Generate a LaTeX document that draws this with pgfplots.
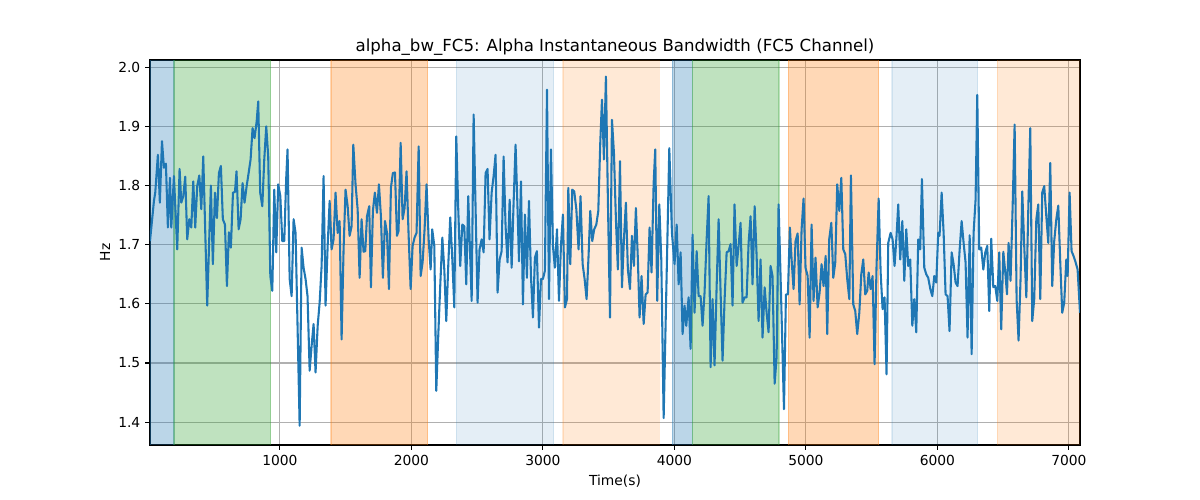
\documentclass[border=0pt]{standalone}
\usepackage{fontspec}
\setmainfont{DejaVu Sans}
\usepackage{pgfplots}
\usepackage{pgfplotstable}
\pgfplotsset{compat=1.18}
\definecolor{tabblue}{HTML}{1F77B4}
\definecolor{tabgreen}{HTML}{2CA02C}
\definecolor{taborange}{HTML}{FF7F0E}
\definecolor{gridgray}{HTML}{B0B0B0}
\pgfplotstableread{
x y
12 1.706
42 1.774
52 1.788
72 1.852
87 1.771
103 1.875
118 1.830
133 1.837
148 1.729
164 1.813
174 1.729
194 1.816
219 1.692
237 1.828
250 1.771
265 1.782
280 1.815
295 1.709
311 1.743
326 1.729
341 1.807
356 1.729
371 1.799
387 1.817
402 1.760
417 1.849
447 1.597
475 1.800
490 1.667
506 1.788
521 1.745
536 1.821
551 1.833
566 1.743
582 1.734
597 1.630
612 1.721
627 1.695
643 1.788
658 1.789
670 1.824
686 1.726
701 1.743
716 1.804
731 1.771
747 1.799
762 1.821
777 1.844
792 1.897
807 1.880
823 1.908
835 1.942
850 1.788
866 1.765
881 1.844
896 1.900
911 1.849
927 1.647
942 1.622
957 1.793
972 1.687
987 1.802
1003 1.782
1018 1.706
1033 1.706
1048 1.813
1058 1.861
1074 1.642
1089 1.613
1104 1.743
1119 1.720
1134 1.563
1150 1.394
1165 1.695
1180 1.661
1195 1.642
1210 1.613
1226 1.487
1241 1.529
1256 1.566
1271 1.484
1287 1.563
1302 1.602
1317 1.664
1332 1.816
1347 1.597
1363 1.698
1378 1.774
1393 1.692
1408 1.709
1423 1.788
1439 1.720
1454 1.740
1469 1.540
1484 1.692
1499 1.793
1515 1.765
1530 1.715
1545 1.731
1558 1.869
1575 1.802
1591 1.760
1606 1.644
1621 1.743
1636 1.688
1649 1.689
1662 1.748
1679 1.765
1692 1.628
1707 1.757
1722 1.788
1738 1.754
1753 1.802
1768 1.748
1783 1.644
1799 1.740
1814 1.720
1829 1.625
1844 1.796
1859 1.821
1875 1.822
1890 1.715
1902 1.723
1918 1.872
1933 1.743
1948 1.762
1963 1.824
1978 1.720
1994 1.625
2009 1.698
2024 1.712
2039 1.720
2055 1.866
2070 1.647
2085 1.670
2100 1.726
2115 1.802
2131 1.709
2146 1.658
2158 1.726
2174 1.698
2189 1.453
2204 1.546
2219 1.630
2235 1.712
2250 1.658
2265 1.571
2280 1.664
2295 1.746
2311 1.675
2326 1.594
2341 1.883
2356 1.760
2371 1.664
2387 1.734
2402 1.731
2417 1.633
2432 1.782
2458 1.605
2473 1.920
2488 1.760
2503 1.602
2518 1.692
2534 1.709
2549 1.687
2564 1.821
2579 1.828
2594 1.709
2610 1.788
2625 1.816
2640 1.852
2655 1.619
2671 1.675
2686 1.689
2701 1.849
2716 1.731
2731 1.670
2747 1.776
2762 1.661
2777 1.771
2792 1.869
2807 1.760
2818 1.672
2833 1.807
2848 1.599
2863 1.751
2878 1.644
2894 1.774
2909 1.647
2924 1.577
2939 1.678
2954 1.689
2970 1.560
2985 1.642
3000 1.642
3015 1.656
3031 1.962
3046 1.608
3061 1.861
3076 1.698
3091 1.661
3107 1.726
3122 1.605
3137 1.698
3152 1.751
3167 1.594
3183 1.608
3193 1.796
3208 1.667
3223 1.793
3238 1.790
3254 1.760
3271 1.692
3286 1.782
3302 1.667
3317 1.642
3332 1.608
3347 1.681
3360 1.757
3375 1.706
3390 1.726
3406 1.734
3421 1.757
3436 1.872
3449 1.945
3464 1.844
3479 1.984
3494 1.776
3510 1.577
3525 1.911
3540 1.855
3555 1.743
3570 1.658
3586 1.841
3601 1.628
3616 1.709
3631 1.771
3646 1.658
3662 1.625
3677 1.715
3692 1.664
3707 1.762
3722 1.675
3735 1.577
3750 1.647
3766 1.566
3781 1.616
3796 1.619
3811 1.729
3826 1.653
3842 1.804
3854 1.861
3869 1.605
3885 1.768
3900 1.675
3918 1.407
3961 1.863
3981 1.720
4001 1.667
4017 1.734
4032 1.633
4047 1.687
4062 1.549
4077 1.597
4090 1.563
4108 1.611
4123 1.524
4138 1.717
4153 1.585
4169 1.689
4184 1.613
4199 1.613
4214 1.563
4229 1.619
4245 1.709
4260 1.782
4275 1.493
4290 1.608
4305 1.496
4321 1.630
4336 1.743
4351 1.619
4366 1.504
4381 1.605
4397 1.687
4412 1.689
4427 1.701
4442 1.597
4457 1.768
4473 1.664
4488 1.698
4503 1.737
4518 1.602
4534 1.611
4549 1.611
4564 1.703
4579 1.748
4594 1.633
4610 1.765
4625 1.681
4640 1.571
4655 1.675
4670 1.543
4686 1.628
4701 1.585
4716 1.552
4731 1.664
4746 1.647
4762 1.465
4777 1.510
4792 1.768
4807 1.647
4833 1.422
4848 1.616
4863 1.616
4878 1.729
4891 1.675
4906 1.625
4921 1.706
4937 1.719
4952 1.599
4967 1.726
4982 1.778
4997 1.661
5013 1.647
5028 1.543
5043 1.734
5058 1.605
5073 1.678
5089 1.594
5104 1.619
5119 1.667
5134 1.630
5150 1.681
5162 1.549
5177 1.709
5193 1.737
5208 1.644
5223 1.670
5238 1.802
5254 1.757
5269 1.813
5284 1.692
5299 1.684
5314 1.642
5330 1.608
5342 1.817
5360 1.599
5375 1.588
5390 1.549
5406 1.585
5421 1.650
5436 1.675
5451 1.616
5466 1.622
5477 1.653
5492 1.625
5507 1.647
5522 1.498
5537 1.664
5553 1.778
5568 1.653
5583 1.591
5598 1.611
5613 1.481
5626 1.703
5644 1.720
5659 1.709
5674 1.664
5689 1.715
5702 1.768
5717 1.675
5733 1.740
5748 1.639
5763 1.726
5778 1.664
5793 1.675
5809 1.563
5824 1.608
5839 1.552
5854 1.709
5869 1.692
5882 1.811
5900 1.661
5915 1.650
5930 1.644
5946 1.625
5961 1.613
5976 1.647
5991 1.636
6006 1.720
6016 1.715
6032 1.788
6047 1.720
6062 1.616
6077 1.613
6092 1.554
6108 1.687
6123 1.667
6138 1.636
6153 1.630
6169 1.692
6184 1.740
6199 1.703
6214 1.670
6229 1.543
6245 1.716
6260 1.515
6275 1.720
6290 1.776
6303 1.953
6318 1.692
6333 1.695
6349 1.658
6364 1.687
6379 1.698
6394 1.588
6409 1.710
6425 1.628
6440 1.630
6455 1.605
6470 1.687
6485 1.557
6501 1.688
6516 1.653
6529 1.616
6541 1.703
6556 1.639
6572 1.765
6587 1.903
6602 1.608
6617 1.538
6632 1.642
6645 1.790
6660 1.698
6676 1.611
6691 1.760
6706 1.897
6721 1.571
6736 1.608
6752 1.743
6767 1.768
6782 1.608
6797 1.788
6812 1.799
6828 1.748
6843 1.703
6858 1.838
6873 1.630
6888 1.706
6904 1.743
6919 1.766
6934 1.670
6949 1.585
6964 1.602
6980 1.675
6990 1.647
7005 1.788
7020 1.689
7035 1.681
7051 1.670
7066 1.658
7084 1.585
}\bwdata
\begin{document}
\begin{tikzpicture}
\path[use as bounding box] (-108.405pt,-39.75pt) rectangle (758.835pt,321.60pt);
\begin{axis}[
  at={(0pt,0pt)}, anchor=south west,
  scale only axis, width=672.1pt, height=278.2pt,
  xmin=12, xmax=7084, ymin=1.3615, ymax=2.012,
  xtick={1000,2000,3000,4000,5000,6000,7000},
  ytick={1.4,1.5,1.6,1.7,1.8,1.9,2.0},
  /pgf/number format/assume math mode=true,
  xticklabel style={/pgf/number format/set thousands separator={}},
  yticklabel style={/pgf/number format/fixed, /pgf/number format/fixed zerofill, /pgf/number format/precision=1},
  tick label style={font=\fontsize{10}{12}\selectfont},
  grid=major, major grid style={gridgray, line width=0.8pt},
  tick align=outside, major tick length=3.5pt,
  tick style={black, line width=0.8pt},
  xtick pos=lower, ytick pos=left,
  axis line style={line width=0.8pt},
  title={alpha\_bw\_FC5: Alpha Instantaneous Bandwidth (FC5 Channel)},
  title style={font=\fontsize{12}{14}\selectfont, at={(axis description cs:0.5,1.0008)}, anchor=base, inner sep=0pt},
  xlabel={Time(s)},
  xlabel style={font=\fontsize{10}{12}\selectfont, at={(axis description cs:0.5,-0.0935)}, anchor=center},
  ylabel={Hz},
  ylabel style={font=\fontsize{10}{12}\selectfont, at={(axis description cs:-0.0484,0.5)}, anchor=center},
]
\addplot[fill=tabblue, draw=tabblue, fill opacity=0.3, draw opacity=0.3, line width=1pt, forget plot] coordinates {(12,1.3) (12,2.1) (194,2.1) (194,1.3)};
\addplot[fill=tabgreen, draw=tabgreen, fill opacity=0.3, draw opacity=0.3, line width=1pt, forget plot] coordinates {(194,1.3) (194,2.1) (929,2.1) (929,1.3)};
\addplot[fill=taborange, draw=taborange, fill opacity=0.3, draw opacity=0.3, line width=1pt, forget plot] coordinates {(1388,1.3) (1388,2.1) (2123,2.1) (2123,1.3)};
\addplot[fill=tabblue, draw=tabblue, fill opacity=0.12, draw opacity=0.12, line width=1pt, forget plot] coordinates {(2341,1.3) (2341,2.1) (3081,2.1) (3081,1.3)};
\addplot[fill=taborange, draw=taborange, fill opacity=0.17, draw opacity=0.17, line width=1pt, forget plot] coordinates {(3152,1.3) (3152,2.1) (3885,2.1) (3885,1.3)};
\addplot[fill=tabblue, draw=tabblue, fill opacity=0.3, draw opacity=0.3, line width=1pt, forget plot] coordinates {(3984,1.3) (3984,2.1) (4136,2.1) (4136,1.3)};
\addplot[fill=tabgreen, draw=tabgreen, fill opacity=0.3, draw opacity=0.3, line width=1pt, forget plot] coordinates {(4136,1.3) (4136,2.1) (4795,2.1) (4795,1.3)};
\addplot[fill=taborange, draw=taborange, fill opacity=0.3, draw opacity=0.3, line width=1pt, forget plot] coordinates {(4866,1.3) (4866,2.1) (5553,2.1) (5553,1.3)};
\addplot[fill=tabblue, draw=tabblue, fill opacity=0.12, draw opacity=0.12, line width=1pt, forget plot] coordinates {(5654,1.3) (5654,2.1) (6305,2.1) (6305,1.3)};
\addplot[fill=taborange, draw=taborange, fill opacity=0.17, draw opacity=0.17, line width=1pt, forget plot] coordinates {(6455,1.3) (6455,2.1) (7200,2.1) (7200,1.3)};
\addplot[tabblue, line width=1.5pt, line join=round, mark=none] table[x=x, y=y] {\bwdata};
\end{axis}
\end{tikzpicture}
\end{document}
